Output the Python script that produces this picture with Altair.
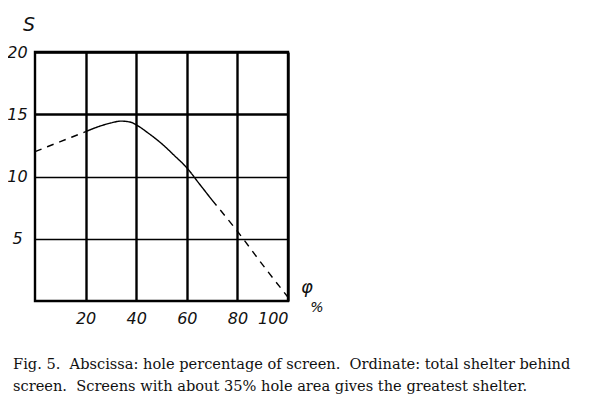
import altair as alt
import pandas as pd

# Data
seg1_x = [0, 10, 20]
seg1_y = [12.0, 12.8, 13.6]
seg2_x = [20, 25, 30, 34, 38, 40, 45, 50, 55, 60, 65, 70]
seg2_y = [13.6, 14.0, 14.3, 14.45, 14.35, 14.15, 13.45, 12.65, 11.7, 10.7, 9.4, 8.1]
seg3_x = [70, 80, 90, 100]
seg3_y = [8.1, 5.6, 2.9, 0.3]
seg_styles = ["dashed", "solid", "dashed"]

x_ticks = [0, 20, 40, 60, 80, 100]
y_ticks = [0, 5, 10, 15, 20]

NB = "\u00a0"
caption1 = f"Fig.{NB}5.{NB}{NB}Abscissa: hole percentage of screen.{NB}{NB}Ordinate: total shelter behind"
caption2 = f"screen.{NB}{NB}Screens with about 35% hole area gives the greatest shelter."

rows = []
for i, (xs, ys) in enumerate([(seg1_x, seg1_y), (seg2_x, seg2_y), (seg3_x, seg3_y)]):
    for x, y in zip(xs, ys):
        rows.append({"phi": x, "S": y, "seg": i, "style": seg_styles[i]})
df = pd.DataFrame(rows)

W, H = 253, 249
hand_font = "DejaVu Sans"

xscale = alt.Scale(domain=[0, 100], nice=False)
yscale = alt.Scale(domain=[0, 20], nice=False)

curve = alt.Chart(df).mark_line(color="black", strokeWidth=1.4, interpolate="monotone").encode(
    x=alt.X("phi:Q", scale=xscale,
            axis=alt.Axis(values=x_ticks[1:], title=None, grid=True, gridColor="black",
                          gridWidth=2.4, gridOpacity=1, ticks=False, domain=False,
                          labelPadding=9, labelFont=hand_font, labelFontStyle="italic",
                          labelFontSize=16, labelColor="#111", labelFontWeight="normal")),
    y=alt.Y("S:Q", scale=yscale,
            axis=alt.Axis(values=y_ticks[1:], title=None, grid=True, gridColor="black",
                          gridWidth={"condition": {"test": "datum.value >= 15", "value": 2.4},
                                     "value": 1.5},
                          gridOpacity=1, ticks=False, domain=False,
                          labelPadding=18, labelAlign="center", labelFont=hand_font,
                          labelFontStyle="italic", labelFontSize=16, labelColor="#111")),
    detail="seg:N",
    strokeDash=alt.StrokeDash("style:N",
                              scale=alt.Scale(domain=["dashed", "solid"], range=[[7, 6], [1, 0]]),
                              legend=None),
)

def txt(s, x, y, size, font, style="normal", align="left", color="#111"):
    return alt.Chart(pd.DataFrame({"t": [s]})).mark_text(
        font=font, fontSize=size, fontStyle=style, align=align, baseline="middle", color=color
    ).encode(text="t:N", x=alt.value(x), y=alt.value(y))

texts = [
    txt("S", -6, -27, 19, hand_font, "italic", "center"),
    txt("φ", 272, 236, 18, hand_font, "italic", "center"),
    txt("%", 282, 256, 14, hand_font, "italic", "center"),
    txt(caption1, -22, 313, 14.6, "DejaVu Serif"),
    txt(caption2, -22, 335, 14.6, "DejaVu Serif"),
]

chart = alt.layer(curve, *texts).properties(
    width=W, height=H,
    autosize=alt.AutoSizeParams(type="none"),
    padding={"left": 27, "top": 44, "right": 304, "bottom": 101},
).configure(background="white").configure_view(stroke="black", strokeWidth=2.4)

chart.save("out.html", embed_options={"renderer": "svg", "actions": False})
